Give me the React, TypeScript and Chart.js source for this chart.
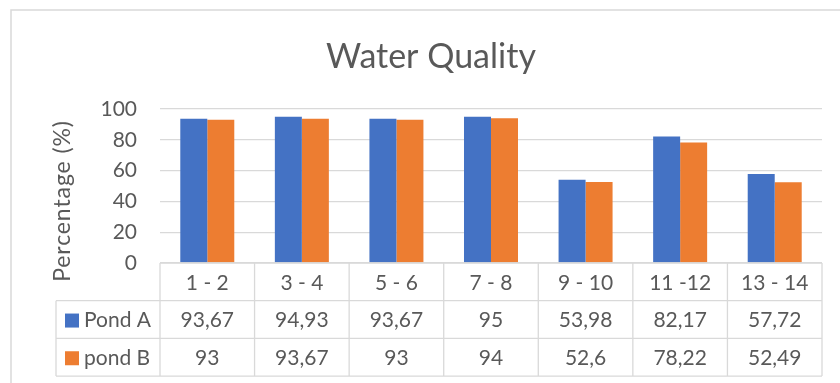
import React, { useEffect, useRef } from "react";
import { Chart, registerables } from "chart.js";

Chart.register(...registerables);

// Chart text
const TITLE = "Water Quality";
const Y_TITLE = "Percentage (%)";

// Sampling intervals and measured percentages
const CATEGORIES = ["1 - 2", "3 - 4", "5 - 6", "7 - 8", "9 - 10", "11 -12", "13 - 14"];
const POND_A = [93.67, 94.93, 93.67, 95, 53.98, 82.17, 57.72];
const POND_B = [93, 93.67, 93, 94, 52.6, 78.22, 52.49];
const SERIES_NAMES = ["Pond A", "pond B"];
const SERIES_COLORS = ["#4472C4", "#ED7D31"];
const Y_MIN = 0;
const Y_MAX = 100;
const Y_STEP = 20;

const FONT = "Lato, 'Open Sans', sans-serif";
const TEXT_COLOR = "#595959";
const LINE_COLOR = "#D9D9D9";

// Decimal comma formatting for the data table
const fmt = (v: number) => String(v).replace(".", ",");

// Draws the outer frame, the title, the vertical axis title and the data table
const tablePlugin = {
  id: "frameTitleTable",
  beforeDraw(chart: any) {
    const { ctx, width, height } = chart;
    ctx.save();
    ctx.fillStyle = "#ffffff";
    ctx.fillRect(0, 0, width, height);
    ctx.strokeStyle = LINE_COLOR;
    ctx.lineWidth = 1.5;
    ctx.beginPath();
    ctx.moveTo(11, height);
    ctx.lineTo(11, 10);
    ctx.lineTo(width, 10);
    ctx.stroke();
    ctx.restore();
  },
  afterDraw(chart: any) {
    const { ctx, chartArea } = chart;
    const xs = chart.scales.x;
    const n = CATEGORIES.length;
    ctx.save();

    // Title
    ctx.fillStyle = TEXT_COLOR;
    ctx.font = `34px ${FONT}`;
    ctx.textAlign = "center";
    ctx.textBaseline = "middle";
    ctx.fillText(TITLE, 431, 57);

    // Vertical axis title
    ctx.save();
    ctx.translate(63, 201);
    ctx.rotate(-Math.PI / 2);
    ctx.font = `23px ${FONT}`;
    (ctx as any).letterSpacing = "0.9px";
    ctx.fillText(Y_TITLE, 0, 0);
    ctx.restore();

    // Column edges taken from the category scale
    const edges: number[] = [chartArea.left];
    for (let i = 1; i < n; i++) {
      edges.push((xs.getPixelForValue(i - 1) + xs.getPixelForValue(i)) / 2);
    }
    edges.push(chartArea.right);

    const top = chartArea.bottom;
    const rowH = 37.7;
    const rows = [top, top + rowH, top + rowH * 2, top + rowH * 3];
    const legendLeft = 56;

    ctx.strokeStyle = LINE_COLOR;
    ctx.lineWidth = 1.3;
    ctx.beginPath();
    // horizontal rules
    ctx.moveTo(chartArea.left, rows[0]);
    ctx.lineTo(chartArea.right, rows[0]);
    for (let r = 1; r < 4; r++) {
      ctx.moveTo(legendLeft, rows[r]);
      ctx.lineTo(chartArea.right, rows[r]);
    }
    // vertical rules
    edges.forEach((x) => {
      ctx.moveTo(x, rows[0]);
      ctx.lineTo(x, rows[3]);
    });
    ctx.moveTo(legendLeft, rows[1]);
    ctx.lineTo(legendLeft, rows[3]);
    ctx.stroke();

    // Header row: categories
    ctx.fillStyle = TEXT_COLOR;
    ctx.font = `21px ${FONT}`;
    ctx.textAlign = "center";
    ctx.textBaseline = "middle";
    CATEGORIES.forEach((c, i) => {
      ctx.fillText(c, xs.getPixelForValue(i), (rows[0] + rows[1]) / 2 + 1);
    });

    // Series rows
    chart.data.datasets.forEach((ds: any, r: number) => {
      const yMid = (rows[r + 1] + rows[r + 2]) / 2 + 1;
      ctx.fillStyle = ds.backgroundColor;
      ctx.fillRect(65, yMid - 7, 14, 14);
      ctx.fillStyle = TEXT_COLOR;
      ctx.textAlign = "left";
      ctx.fillText(ds.label, 84, yMid);
      ctx.textAlign = "center";
      ds.data.forEach((v: number, i: number) => {
        ctx.fillText(fmt(v), xs.getPixelForValue(i), yMid);
      });
    });

    ctx.restore();
  },
};

export default function App() {
  const canvasRef = useRef<HTMLCanvasElement | null>(null);

  useEffect(() => {
    if (!canvasRef.current) return;
    const chart = new Chart(canvasRef.current, {
      type: "bar",
      data: {
        labels: CATEGORIES,
        datasets: [
          {
            label: SERIES_NAMES[0],
            data: POND_A,
            backgroundColor: SERIES_COLORS[0],
            categoryPercentage: 0.571,
            barPercentage: 1,
          },
          {
            label: SERIES_NAMES[1],
            data: POND_B,
            backgroundColor: SERIES_COLORS[1],
            categoryPercentage: 0.571,
            barPercentage: 1,
          },
        ],
      },
      options: {
        responsive: false,
        animation: false,
        devicePixelRatio: 1,
        layout: { padding: { left: 0, top: 109, right: 18, bottom: 120 } },
        plugins: {
          legend: { display: false },
          title: { display: false },
          tooltip: { enabled: false },
        },
        scales: {
          x: { display: false },
          y: {
            min: Y_MIN,
            max: Y_MAX,
            afterFit: (scale: any) => {
              scale.width = 160;
            },
            ticks: {
              stepSize: Y_STEP,
              padding: 23,
              color: TEXT_COLOR,
              font: { family: FONT, size: 21 },
            },
            grid: { color: LINE_COLOR, lineWidth: 1.3, drawTicks: false },
            border: { display: false },
          },
        },
      },
      plugins: [tablePlugin],
    });
    return () => chart.destroy();
  }, []);

  return (
    <div style={{ position: "fixed", left: 0, top: 0, width: 840, height: 383, background: "#fff" }}>
      <canvas ref={canvasRef} width={840} height={383} />
    </div>
  );
}
